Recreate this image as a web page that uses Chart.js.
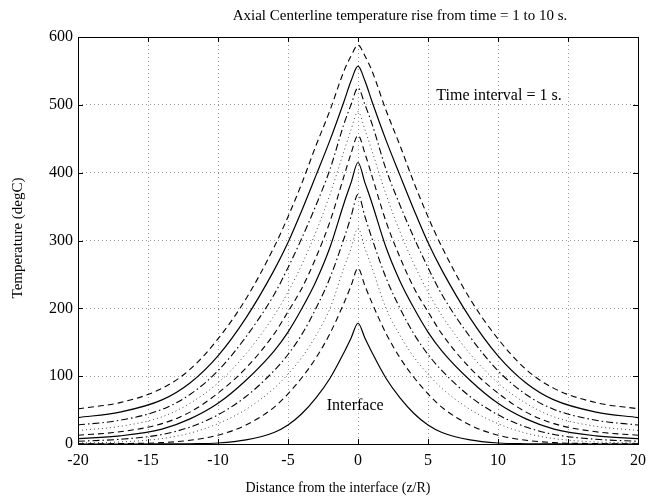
<!DOCTYPE html>
<html><head><meta charset="utf-8">
<script src="https://cdn.jsdelivr.net/npm/chart.js@4/dist/chart.umd.min.js"></script>
<style>html,body{margin:0;padding:0;background:#fff}#wrap{width:654px;height:500px;position:relative}</style>
</head><body><div id="wrap"><canvas id="c"></canvas></div>
<script>
const titleText = 'Axial Centerline temperature rise from time = 1 to 10 s.';
const xLabel = 'Distance from the interface (z/R)';
const yLabel = 'Temperature (degC)';
const noteText = 'Time interval = 1 s.';
const interfaceText = 'Interface';
const xTicks = [-20, -15, -10, -5, 0, 5, 10, 15, 20];
const yTicks = [0, 100, 200, 300, 400, 500, 600];

const distance = [-20,-17,-14,-12,-10,-8,-6,-5,-4,-3,-2,-1,-0.5,0,0.5,1,2,3,4,5,6,8,10,12,14,17,20];
const t1  = [0,0,0.1,0.4,1.5,6,17,28,45,68,97,135,156,178,156,135,97,68,45,28,17,6,1.5,0.4,0.1,0,0];
const t2  = [0.2,0.6,2,5.5,13,28,54,74,98,127,163,208,233,259,233,208,163,127,98,74,54,28,13,5.5,2,0.6,0.2];
const t3  = [1.5,3,8,16,30,51,82,103,128,160,200,260,288,318,288,260,200,160,128,103,82,51,30,16,8,3,1.5];
const t4  = [4,7,14,25,43,70,108,132,162,200,245,303,335,368,335,303,245,200,162,132,108,70,43,25,14,7,4];
const t5  = [8,12,22,37,60,94,137,165,200,240,290,355,385,415,385,355,290,240,200,165,137,94,60,37,22,12,8];
const t6  = [13,18,30,47,75,112,162,195,230,275,328,395,428,455,428,395,328,275,230,195,162,112,75,47,30,18,13];
const t7  = [20,26,40,60,90,133,189,224,265,313,368,432,463,490,463,432,368,313,265,224,189,133,90,60,40,26,20];
const t8  = [28,35,51,73,108,158,220,260,304,352,405,472,500,525,500,472,405,352,304,260,220,158,108,73,51,35,28];
const t9  = [39,47,65,90,130,186,256,297,345,396,448,505,535,557,535,505,448,396,345,297,256,186,130,90,65,47,39];
const t10 = [52,61,82,110,155,214,290,335,385,440,492,550,572,588,572,550,492,440,385,335,290,214,155,110,82,61,52];

const series = [t1,t2,t3,t4,t5,t6,t7,t8,t9,t10];
const styles = [
  {dash: [], w: 1.2, c: '#000'},
  {dash: [6,4], w: 1.1, c: '#000'},
  {dash: [1,3], w: 1, c: '#444'},
  {dash: [7,3,1.5,3], w: 1.1, c: '#000'}
];

const datasets = series.map((s, k) => {
  const st = styles[k % 4];
  return {
    label: 't = ' + (k + 1) + ' s',
    data: distance.map((x, i) => ({x: x, y: s[i]})),
    borderColor: st.c,
    borderWidth: st.w,
    borderDash: st.dash,
    pointRadius: 0,
    fill: false,
    cubicInterpolationMode: 'monotone'
  };
});

const SERIF = '"Liberation Serif", "Times New Roman", serif';

const frame = {
  id: 'frame',
  afterDraw(chart) {
    const {ctx, chartArea: a, scales} = chart;
    const xs = scales.x, ys = scales.y;
    ctx.save();
    ctx.strokeStyle = '#000';
    ctx.lineWidth = 1;
    ctx.setLineDash([]);
    ctx.strokeRect(Math.round(a.left) + 0.5, Math.round(a.top) + 0.5, Math.round(a.right - a.left), Math.round(a.bottom - a.top));
    ctx.beginPath();
    xTicks.forEach(v => {
      const p = Math.round(xs.getPixelForValue(v)) + 0.5;
      ctx.moveTo(p, a.bottom); ctx.lineTo(p, a.bottom - 5);
      ctx.moveTo(p, a.top); ctx.lineTo(p, a.top + 5);
    });
    yTicks.forEach(v => {
      const p = Math.round(ys.getPixelForValue(v)) + 0.5;
      ctx.moveTo(a.left, p); ctx.lineTo(a.left + 5, p);
      ctx.moveTo(a.right, p); ctx.lineTo(a.right - 5, p);
    });
    ctx.stroke();

    ctx.fillStyle = '#000';
    ctx.textBaseline = 'middle';
    ctx.textAlign = 'center';
    ctx.font = '15px ' + SERIF;
    ctx.fillText(titleText, 400, 16);
    ctx.font = '14px ' + SERIF;
    ctx.fillText(xLabel, 338, 488);
    ctx.save();
    ctx.translate(18, 238);
    ctx.rotate(-Math.PI / 2);
    ctx.font = '15px ' + SERIF;
    ctx.fillText(yLabel, 0, 0);
    ctx.restore();
    ctx.font = '16px ' + SERIF;
    ctx.fillText(noteText, xs.getPixelForValue(10.07), ys.getPixelForValue(514));
    ctx.fillText(interfaceText, xs.getPixelForValue(-0.2), ys.getPixelForValue(56));
    ctx.restore();
  }
};

new Chart(document.getElementById('c'), {
  type: 'line',
  data: {datasets},
  options: {
    responsive: true,
    maintainAspectRatio: false,
    animation: false,
    layout: {padding: {top: 37, right: 16, left: 0, bottom: 0}},
    plugins: {legend: {display: false}, title: {display: false}, tooltip: {enabled: false}},
    scales: {
      x: {
        type: 'linear', min: -20, max: 20,
        afterBuildTicks: s => { s.ticks = xTicks.map(v => ({value: v})); },
        afterFit: s => { s.height = 56; },
        grid: {color: '#999', lineWidth: 1, drawTicks: false},
        border: {display: false, dash: [1,3]},
        ticks: {color: '#000', padding: 7, font: {family: SERIF, size: 16}, maxRotation: 0}
      },
      y: {
        type: 'linear', min: 0, max: 600,
        afterBuildTicks: s => { s.ticks = yTicks.map(v => ({value: v})); },
        afterFit: s => { s.width = 78; },
        grid: {color: '#999', lineWidth: 1, drawTicks: false},
        border: {display: false, dash: [1,3]},
        ticks: {color: '#000', padding: 5, font: {family: SERIF, size: 16}}
      }
    }
  },
  plugins: [frame]
});
</script>
</body></html>
